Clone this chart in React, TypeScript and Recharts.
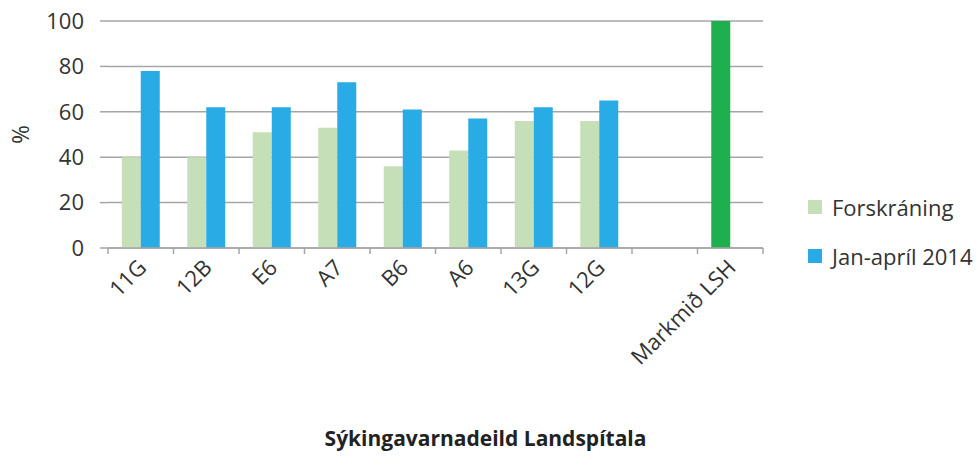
import { BarChart, Bar, XAxis, YAxis, CartesianGrid, Legend, Cell, Label } from 'recharts';

const categories = ['11G', '12B', 'E6', 'A7', 'B6', 'A6', '13G', '12G', '', 'Markmið LSH'];
const forskraning = [40, 40, 51, 53, 36, 43, 56, 56, null, 100];
const janApril = [78, 62, 62, 73, 61, 57, 62, 65, null, null];
const yTicks = [0, 20, 40, 60, 80, 100];

const data = categories.map((name, i) => ({
  name,
  forskraning: forskraning[i],
  janApril: janApril[i],
}));

const FONT = '"Open Sans", sans-serif';
const TEXT = '#333333';
const GRID = '#a6a6a6';
const LIGHT_GREEN = '#c5dfb8';
const BLUE = '#29abe6';
const GREEN = '#1eb04f';

const W = 980;
const H = 456;
const MARGIN = { top: 21, right: 217, bottom: 0, left: 0 };
const Y_WIDTH = 108;
const BAND = (W - MARGIN.right - Y_WIDTH) / categories.length;

const XTick = (props: any) => {
  const { x, y, payload, index } = props;
  const isLast = index === categories.length - 1;
  return (
    <g>
      <line x1={x - BAND / 2} y1={y} x2={x - BAND / 2} y2={y + 6} stroke={GRID} strokeWidth={1.5} />
      {isLast && (
        <line x1={x + BAND / 2} y1={y} x2={x + BAND / 2} y2={y + 6} stroke={GRID} strokeWidth={1.5} />
      )}
      <text
        x={x + 7}
        y={y + 21}
        textAnchor='end'
        fill={TEXT}
        fontSize={22}
        fontFamily={FONT}
        transform={`rotate(-45, ${x + 7}, ${y + 21})`}
      >
        {payload.value}
      </text>
    </g>
  );
};

const LegendContent = (props: any) => {
  const { payload } = props;
  return (
    <div style={{ fontFamily: FONT, fontSize: 22, color: TEXT }}>
      {(payload || []).map((entry: any) => (
        <div key={entry.value} style={{ display: 'flex', alignItems: 'center', height: 49 }}>
          <span style={{ width: 14, height: 14, background: entry.color, marginLeft: 5, marginRight: 10 }} />
          <span>{entry.value}</span>
        </div>
      ))}
    </div>
  );
};

export default function App() {
  return (
    <div style={{ position: 'absolute', left: 0, top: 0, width: W, height: H, background: '#fff' }}>
      <BarChart
        width={W}
        height={H}
        data={data}
        margin={MARGIN}
        barCategoryGap='21%'
        barGap={0}
      >
        <CartesianGrid vertical={false} stroke={GRID} strokeWidth={1.5} />
        <XAxis
          dataKey='name'
          interval={0}
          height={208}
          tickSize={0}
          tickMargin={0}
          tickLine={false}
          axisLine={{ stroke: GRID, strokeWidth: 1.5 }}
          tick={<XTick />}
        >
          <Label
            content={(p: any) => {
              const vb = p.viewBox;
              const cx = vb.x + vb.width / 2 + 50;
              return (
                <text x={cx} y={446} textAnchor='middle' fontWeight='bold' fontSize={21} fontFamily={FONT} fill='#222'>
                  Sýkingavarnadeild Landspítala
                </text>
              );
            }}
          />
        </XAxis>
        <YAxis
          width={Y_WIDTH}
          domain={[0, 100]}
          ticks={yTicks}
          axisLine={false}
          tickSize={8}
          tickMargin={16}
          tickLine={{ stroke: GRID, strokeWidth: 1.5 }}
          tick={{ fill: TEXT, fontSize: 22, fontFamily: FONT }}
        >
          <Label
            content={(p: any) => {
              const vb = p.viewBox;
              const cy = vb.y + vb.height / 2;
              return (
                <text
                  x={20}
                  y={cy}
                  textAnchor='middle'
                  dominantBaseline='central'
                  fontSize={23}
                  fontFamily={FONT}
                  fill={TEXT}
                  transform={`rotate(-90, 20, ${cy})`}
                >
                  %
                </text>
              );
            }}
          />
        </YAxis>
        <Legend
          layout='vertical'
          align='center'
          verticalAlign='middle'
          wrapperStyle={{ left: 803, top: 182 }}
          content={<LegendContent />}
        />
        <Bar dataKey='forskraning' name='Forskráning' fill={LIGHT_GREEN} isAnimationActive={false}>
          {data.map((d, i) => (
            <Cell key={i} fill={d.name === 'Markmið LSH' ? GREEN : LIGHT_GREEN} />
          ))}
        </Bar>
        <Bar dataKey='janApril' name='Jan-apríl 2014' fill={BLUE} isAnimationActive={false} />
      </BarChart>
    </div>
  );
}
